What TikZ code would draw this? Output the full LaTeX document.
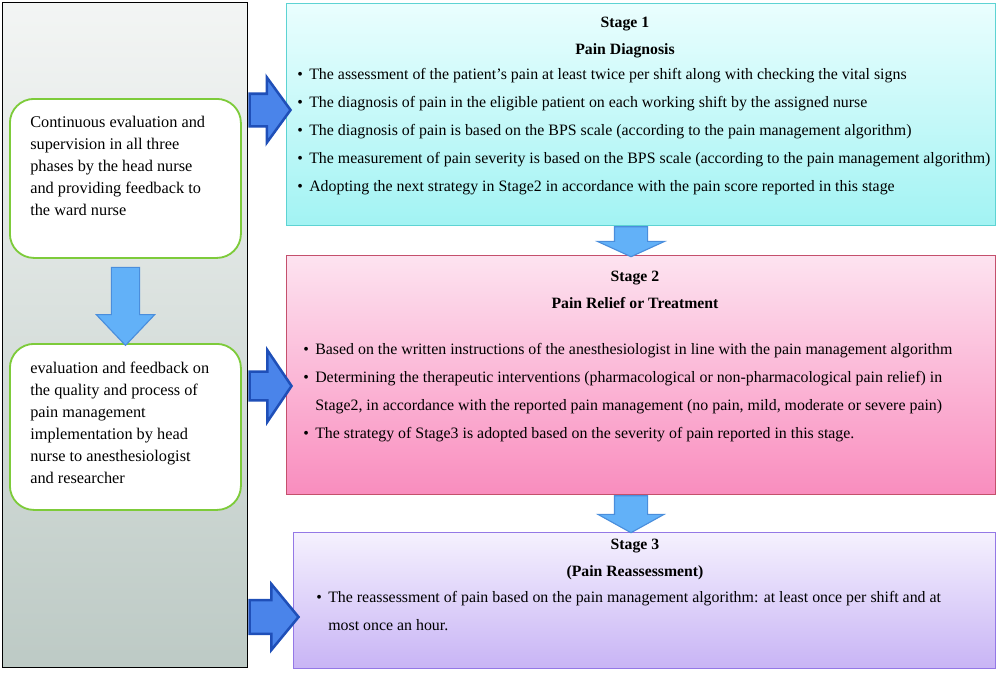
\documentclass[tikz,border=0pt]{standalone}
\usepackage{fontspec}
\setmainfont{Liberation Serif}
\usetikzlibrary{shapes.arrows,shadings,positioning}

\definecolor{panelTop}{HTML}{F3F5F4}
\definecolor{panelBot}{HTML}{BDCAC5}
\definecolor{evalGreen}{HTML}{7DCB3A}
\definecolor{oneLine}{HTML}{5DD3D3}
\definecolor{oneTop}{HTML}{EAFEFE}
\definecolor{oneBot}{HTML}{A2F3F3}
\definecolor{twoLine}{HTML}{C4506C}
\definecolor{twoTop}{HTML}{FDE3F0}
\definecolor{twoBot}{HTML}{F98DBE}
\definecolor{threeLine}{HTML}{9478E6}
\definecolor{threeTop}{HTML}{F5F1FE}
\definecolor{threeBot}{HTML}{C8B4F5}
\definecolor{darkArrow}{HTML}{4A84EA}
\definecolor{darkArrowLine}{HTML}{1F4FB8}
\definecolor{lightArrow}{HTML}{62B1F8}
\definecolor{lightArrowLine}{HTML}{4A8EDC}

\newcommand{\itm}{\makebox[3mm][l]{\textbullet}}

\tikzset{
  box/.style={draw, inner sep=0pt, anchor=north west},
  panelbox/.style={box, line width=0.9pt, top color=panelTop, bottom color=panelBot},
  greenbox/.style={box, draw=evalGreen, line width=1.3pt, fill=white, rounded corners=6mm},
  lefttext/.style={anchor=north west, inner sep=0pt, align=left, font=\fontsize{11.6}{15.6}\selectfont},
  items/.style={anchor=north west, inner sep=0pt, align=left, font=\fontsize{11.3}{19.84}\selectfont},
  title/.style={anchor=north, inner sep=0pt, align=center, font=\fontsize{11.2}{19}\selectfont\bfseries},
  rarrow/.style={single arrow, draw=darkArrowLine, fill=darkArrow, line width=1.8pt, inner xsep=0pt,
    anchor=tail},
  darrow/.style={single arrow, draw=lightArrowLine, fill=lightArrow, line width=0.8pt, inner xsep=0pt,
    anchor=tail, rotate=-90}
}

\begin{document}
\begin{tikzpicture}[x=0.25mm, y=-0.25mm]
\useasboundingbox (0,0) rectangle (1000,675);

% left panel
\node[panelbox, minimum width=61.25mm, minimum height=166.25mm] (panel) at (2,2) {};
\node[greenbox, minimum width=57.75mm, minimum height=39.75mm] (eval) at (9,98) {};
\node[greenbox, minimum width=57.75mm, minimum height=41.5mm] (feedback) at (9,343) {};
\node[lefttext] (evaltxt) at (30,116) {Continuous evaluation and\\supervision in all three\\phases by the head nurse\\and providing feedback to\\the ward nurse};
\node[lefttext] (feedbacktxt) at (30,362) {evaluation and feedback on\\the quality and process of\\pain management\\implementation by head\\nurse to anesthesiologist\\and researcher};

% stages
\node[box, draw=oneLine, line width=0.8pt, top color=oneTop, bottom color=oneBot,
  minimum width=177.25mm, minimum height=55.5mm] (stage1) at (286,3) {};
\node[box, draw=twoLine, line width=0.8pt, top color=twoTop, bottom color=twoBot,
  minimum width=177.25mm, minimum height=59.75mm] (stage2) at (286,255) {};
\node[box, draw=threeLine, line width=0.8pt, top color=threeTop, bottom color=threeBot,
  minimum width=175.5mm, minimum height=34mm] (stage3) at (293,532) {};

\node[title] (t1) at (625,17) {Stage 1\\Pain Diagnosis};
\node[title] (t2) at (635,271) {Stage 2\\Pain Relief or Treatment};
\node[title] (t3) at (635,539) {Stage 3\\(Pain Reassessment)};

\node[items] (list1) at (297,68) {\itm The assessment of the patient’s pain at least twice per shift along with checking the vital signs\\
\itm The diagnosis of pain in the eligible patient on each working shift by the assigned nurse\\
\itm The diagnosis of pain is based on the BPS scale (according to the pain management algorithm)\\
\itm The measurement of pain severity is based on the BPS scale (according to the pain management algorithm)\\
\itm Adopting the next strategy in Stage2 in accordance with the pain score reported in this stage};
\node[items] (list2) at (303,343) {\itm Based on the written instructions of the anesthesiologist in line with the pain management algorithm\\
\itm Determining the therapeutic interventions (pharmacological or non-pharmacological pain relief) in\\
\hspace*{3mm}Stage2, in accordance with the reported pain management (no pain, mild, moderate or severe pain)\\
\itm The strategy of Stage3 is adopted based on the severity of pain reported in this stage.};
\node[items] (list3) at (316,591) {\itm The reassessment of pain based on the pain management algorithm: at least once per shift and at\\
\hspace*{3mm}most once an hour.};

% arrows
\node[darrow, minimum height=19.5mm, inner ysep=3.4mm, single arrow head extend=3.75mm,
  single arrow tip angle=87] (down) at ([yshift=-2mm]eval.south -| 125.5,0) {};
\node[rarrow, minimum height=10.25mm, inner ysep=3.75mm, single arrow head extend=4.1mm,
  single arrow tip angle=108] (to1) at (panel.east |- 0,110) {};
\node[rarrow, minimum height=10.5mm, inner ysep=3.3mm, single arrow head extend=5.3mm,
  single arrow tip angle=112] (to2) at (panel.east |- 0,386) {};
\node[rarrow, minimum height=12.25mm, inner ysep=3.9mm, single arrow head extend=4mm,
  single arrow tip angle=101] (to3) at (panel.east |- 0,617) {};
\node[darrow, minimum height=7.5mm, inner ysep=4mm, single arrow head extend=4.25mm,
  single arrow tip angle=131] (one2two) at (631,0 |- stage1.south) {};
\node[darrow, minimum height=9.25mm, inner ysep=4mm, single arrow head extend=4.1mm,
  single arrow tip angle=122] (two2three) at (631,0 |- stage2.south) {};
\end{tikzpicture}
\end{document}
